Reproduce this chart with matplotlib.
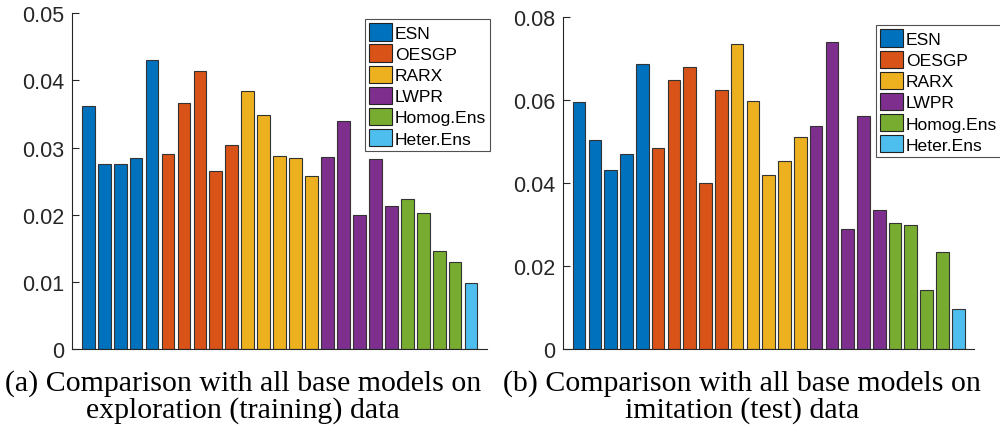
import numpy as np
import matplotlib
matplotlib.use("Agg")
import matplotlib.pyplot as plt
from matplotlib.patches import Patch

# model groups and their bar colours (MATLAB default palette)
models = ["ESN", "OESGP", "RARX", "LWPR", "Homog.Ens", "Heter.Ens"]
colors = ["#0072BD", "#D95319", "#EDB120", "#7E2F8E", "#77AC30", "#4DBEEE"]
counts = [5, 5, 5, 5, 4, 1]

# error per model run, exploration (training) data
train_err = [0.0362, 0.0276, 0.0276, 0.0284, 0.0430,
             0.0290, 0.0366, 0.0414, 0.0265, 0.0304,
             0.0384, 0.0348, 0.0287, 0.0285, 0.0258,
             0.0286, 0.0339, 0.0200, 0.0283, 0.0213,
             0.0223, 0.0203, 0.0146, 0.0130,
             0.0098]

# error per model run, imitation (test) data
test_err = [0.0594, 0.0502, 0.0432, 0.0469, 0.0686,
            0.0484, 0.0648, 0.0678, 0.0400, 0.0623,
            0.0733, 0.0596, 0.0420, 0.0453, 0.0510,
            0.0537, 0.0740, 0.0289, 0.0562, 0.0334,
            0.0303, 0.0298, 0.0141, 0.0234,
            0.0097]

train_ticks = [0, 0.01, 0.02, 0.03, 0.04, 0.05]
test_ticks = [0, 0.02, 0.04, 0.06, 0.08]

captions = ["(a) Comparison with all base models on\nexploration (training) data",
            "(b) Comparison with all base models on\nimitation (test) data"]

bar_colors = []
for c, n in zip(colors, counts):
    bar_colors += [c] * n

plt.rcParams["font.family"] = "Liberation Sans"

fig = plt.figure(figsize=(10, 4.35), dpi=100)
ax1 = fig.add_axes([0.0723, 0.1954, 0.4147, 0.7717])
ax2 = fig.add_axes([0.5633, 0.1954, 0.4107, 0.7640])


def draw_panel(ax, values, ticks, ymax, legend_anchor):
    x = np.arange(1, len(values) + 1)
    ax.bar(x, values, width=0.8, color=bar_colors,
           edgecolor="#333333", linewidth=0.8)
    ax.set_xlim(0, 26)
    ax.set_ylim(0, ymax)
    ax.set_xticks([])
    ax.set_yticks(ticks)
    ax.set_yticklabels([("%g" % t) for t in ticks])
    ax.tick_params(axis="y", direction="in", length=5, labelsize=15.5,
                   color="#262626", labelcolor="#262626", pad=6)
    for s in ["top", "right"]:
        ax.spines[s].set_visible(False)
    for s in ["left", "bottom"]:
        ax.spines[s].set_color("#262626")
        ax.spines[s].set_linewidth(0.8)

    handles = [Patch(facecolor=c, edgecolor="#222222", linewidth=0.8)
               for c in colors]
    leg = ax.legend(handles, models, loc="upper left",
                    bbox_to_anchor=legend_anchor, bbox_transform=fig.transFigure,
                    fontsize=12.6, frameon=True, fancybox=False,
                    handlelength=1.3, handleheight=1.15, handletextpad=0.15,
                    labelspacing=0.2, borderpad=0.25, borderaxespad=0)
    leg.get_frame().set_edgecolor("#262626")
    leg.get_frame().set_linewidth(0.8)


draw_panel(ax1, train_err, train_ticks, 0.05, (0.365, 0.954))
draw_panel(ax2, test_err, test_ticks, 0.08, (0.876, 0.940))

fig.text(0.243, 0.088, captions[0], ha="center", va="center",
         fontsize=21.5, family="Liberation Serif", linespacing=1.0)
fig.text(0.742, 0.088, captions[1], ha="center", va="center",
         fontsize=21.5, family="Liberation Serif", linespacing=1.0)

fig.savefig("out.png", dpi=100)
